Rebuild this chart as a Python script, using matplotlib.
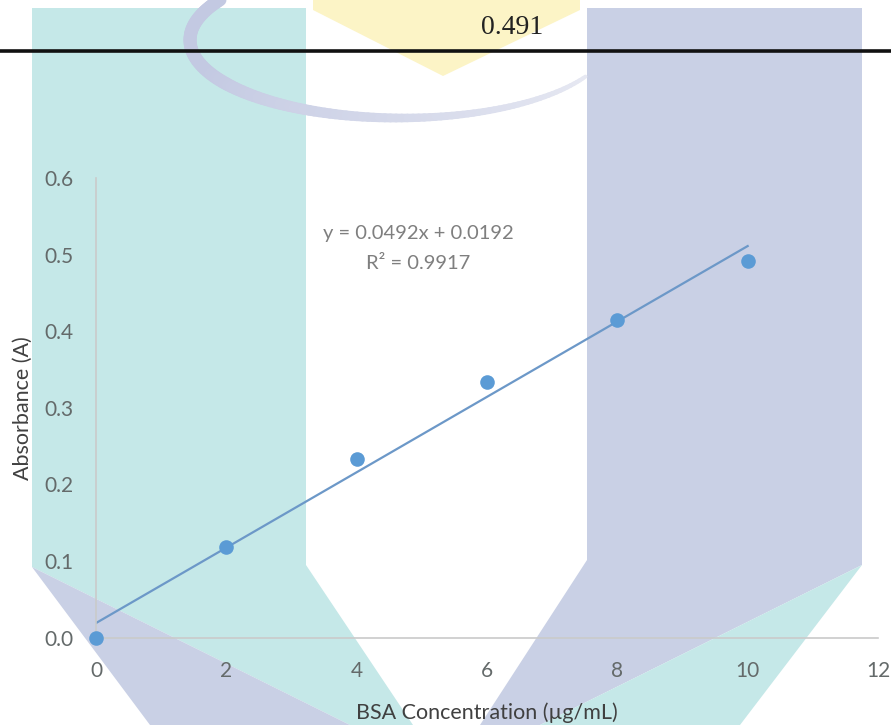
import numpy as np
import matplotlib
matplotlib.use('Agg')
import matplotlib.pyplot as plt
from matplotlib.patches import Polygon
from matplotlib.collections import LineCollection
from matplotlib.colors import to_rgb

plt.rcParams['font.family'] = ['Lato', 'DejaVu Sans']

# ---------------- data ----------------
concentration = [0, 2, 4, 6, 8, 10]
absorbance = [0.000, 0.118, 0.233, 0.333, 0.415, 0.491]
x_ticks = [0, 2, 4, 6, 8, 10, 12]
y_ticks = [0.0, 0.1, 0.2, 0.3, 0.4, 0.5, 0.6]
x_label = 'BSA Concentration (µg/mL)'
y_label = 'Absorbance (A)'
eq_text = 'y = 0.0492x + 0.0192'
r2_text = 'R² = 0.9917'
header_value = '0.491'

W, H = 891, 725
fig = plt.figure(figsize=(W / 100, H / 100), dpi=100)
fig.patch.set_facecolor('white')

# ---------------- background (scanned page watermark) ----------------
bg = fig.add_axes([0, 0, 1, 1], zorder=0)
bg.set_xlim(0, W)
bg.set_ylim(H, 0)
bg.axis('off')
cyan = '#c5e8e8'
lav = '#c9d0e5'
yel = '#fcf4c6'
shapes = [
    ([(32, 8), (306, 8), (306, 565), (413, 725), (350, 725), (32, 567)], cyan),
    ([(32, 567), (350, 725), (150, 725)], lav),
    ([(587, 8), (862, 8), (862, 565), (540, 725), (480, 725), (587, 560)], lav),
    ([(862, 565), (740, 725), (540, 725)], cyan),
    ([(313, 0), (580, 0), (580, 10), (443, 76), (313, 10)], yel),
]
for pts, col in shapes:
    bg.add_patch(Polygon(pts, closed=True, facecolor=col, edgecolor='none'))

# swoosh arc of the watermark, fading to the right
phi = np.radians(np.linspace(211, 28, 120))
ax_x = 400 + 210 * np.cos(phi)
ax_y = 40 + 78 * np.sin(phi)
segs = [[(ax_x[i], ax_y[i]), (ax_x[i + 1], ax_y[i + 1])] for i in range(len(phi) - 1)]
t = np.linspace(0, 1, len(segs))
widths = (13 - 9 * np.clip((t - 0.35) / 0.65, 0, 1)) * 0.72
c0 = np.array(to_rgb('#c3c9e2'))
c1 = np.array(to_rgb('#e6e8f2'))
cols = [tuple(c0 + (c1 - c0) * np.clip((v - 0.3) / 0.7, 0, 1)) for v in t]
arc = LineCollection(segs, linewidths=widths, colors=cols, capstyle='round')
bg.add_collection(arc)

# header rule and value from the table above
bg.plot([0, W], [51, 51], color='#111111', lw=2.6, zorder=5)
fig.text(512 / W, 1 - 28 / H, header_value, ha='center', va='center',
         family=['Liberation Serif', 'DejaVu Serif'], fontsize=20, color='#222222')

# ---------------- chart ----------------
ax = fig.add_axes([96 / W, (H - 637.5) / H, (878 - 96) / W, 459.5 / H], zorder=1)
ax.patch.set_alpha(0)
ax.set_xlim(0, 12)
ax.set_ylim(0, 0.6)
for s in ['top', 'right']:
    ax.spines[s].set_visible(False)
for s in ['left', 'bottom']:
    ax.spines[s].set_color('#cacaca')
    ax.spines[s].set_linewidth(1.2)

ax.set_xticks(x_ticks)
ax.set_xticklabels([str(v) for v in x_ticks])
ax.set_yticks(y_ticks)
ax.set_yticklabels([f'{v:.1f}' for v in y_ticks])
ax.tick_params(axis='both', length=0, labelsize=15, labelcolor='#646a6a')
ax.tick_params(axis='x', pad=17)
ax.tick_params(axis='y', pad=16)

slope, intercept = np.polyfit(concentration, absorbance, 1)
xs = np.array([min(concentration), max(concentration)])
ax.plot(xs, slope * xs + intercept, color='#6c98c8', lw=1.6, zorder=2)
ax.plot(concentration, absorbance, 'o', ms=10.5, color='#5b9bd5',
        markeredgewidth=0, zorder=3, clip_on=False)

ax.text(4.94, 0.527, eq_text, ha='center', va='center', fontsize=14.5, color='#7f7f7f')
ax.text(4.94, 0.489, r2_text, ha='center', va='center', fontsize=14.5, color='#7f7f7f')

ax.set_xlabel(x_label, fontsize=15.5, color='#404040')
ax.set_ylabel(y_label, fontsize=15.5, color='#404040')
ax.xaxis.set_label_coords(0.5, -0.141)
ax.yaxis.set_label_coords(-0.081, 0.5)

fig.savefig('out.png', dpi=100, facecolor='white')
